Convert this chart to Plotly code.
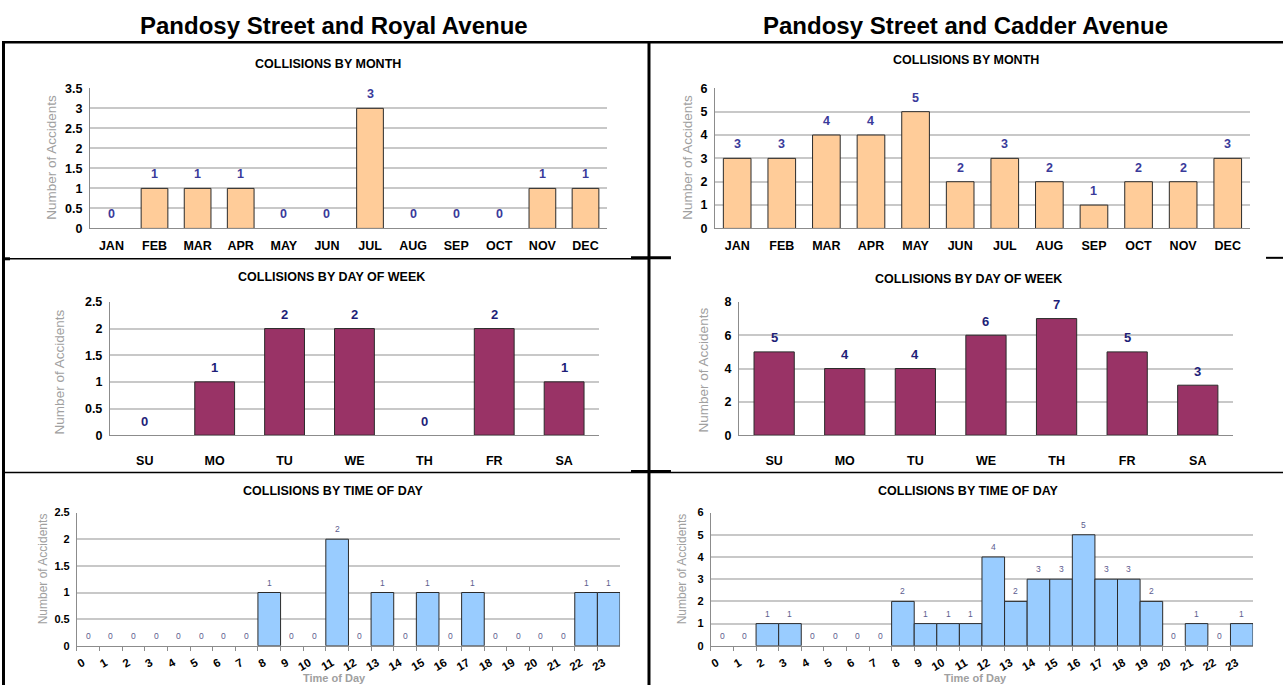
import plotly.graph_objects as go

W, H = 1283, 692

# ---------------- data ----------------
months = ["JAN", "FEB", "MAR", "APR", "MAY", "JUN", "JUL", "AUG", "SEP", "OCT", "NOV", "DEC"]
royal_month = [0, 1, 1, 1, 0, 0, 3, 0, 0, 0, 1, 1]
cadder_month = [3, 3, 4, 4, 5, 2, 3, 2, 1, 2, 2, 3]

days = ["SU", "MO", "TU", "WE", "TH", "FR", "SA"]
royal_day = [0, 1, 2, 2, 0, 2, 1]
cadder_day = [5, 4, 4, 6, 7, 5, 3]

hours = list(range(24))
royal_hour = [0, 0, 0, 0, 0, 0, 0, 0, 1, 0, 0, 2, 0, 1, 0, 1, 0, 1, 0, 0, 0, 0, 1, 1]
cadder_hour = [0, 0, 1, 1, 0, 0, 0, 0, 2, 1, 1, 1, 4, 2, 3, 3, 5, 3, 3, 2, 0, 1, 0, 1]

left_title = "Pandosy Street and Royal Avenue"
right_title = "Pandosy Street and Cadder Avenue"
y_title = "Number of Accidents"

FONT = "Liberation Sans, Arial, sans-serif"
PEACH = "#FFCC99"
PLUM = "#993366"
SKY = "#99CCFF"


def px(x):
    return x / W


def py(y):
    return 1 - y / H


fig = go.Figure()
annotations = []
shapes = []

# panel definitions: pixel boxes of plot areas
panels = [
    dict(ax="1", cats=months, vals=royal_month, color=PEACH, width=0.62, box=(88, 606, 83, 226),
         ymax=3.5, dtick=0.5, title="COLLISIONS BY MONTH", tx=327, ty=58, kind="month",
         ytx=50, yty=153),
    dict(ax="2", cats=months, vals=cadder_month, color=PEACH, width=0.62, box=(714, 1250, 83, 226),
         ymax=6, dtick=1, title="COLLISIONS BY MONTH", tx=966, ty=54, kind="month",
         ytx=687, yty=153),
    dict(ax="3", cats=days, vals=royal_day, color=PLUM, width=0.57, box=(108, 598, 301, 437),
         ymax=2.5, dtick=0.5, title="COLLISIONS BY DAY OF WEEK", tx=330, ty=276, kind="day",
         ytx=58, yty=372),
    dict(ax="4", cats=days, vals=cadder_day, color=PLUM, width=0.57, box=(738, 1233, 301, 437),
         ymax=8, dtick=2, title="COLLISIONS BY DAY OF WEEK", tx=968, ty=278, kind="day",
         ytx=703, yty=370),
    dict(ax="5", cats=hours, vals=royal_hour, color=SKY, width=1, box=(75, 619, 516, 652),
         ymax=2.5, dtick=0.5, title="COLLISIONS BY TIME OF DAY", tx=332, ty=494, kind="hour",
         ytx=41, yty=573, xt=333),
    dict(ax="6", cats=hours, vals=cadder_hour, color=SKY, width=1, box=(710, 1253, 516, 652),
         ymax=6, dtick=1, title="COLLISIONS BY TIME OF DAY", tx=968, ty=494, kind="hour",
         ytx=681, yty=573, xt=975),
]

layout_axes = {}
for p in panels:
    a = p["ax"]
    x0, x1, y0, y1 = p["box"]
    xname = "xaxis" if a == "1" else "xaxis" + a
    yname = "yaxis" if a == "1" else "yaxis" + a
    xref = "x" if a == "1" else "x" + a
    yref = "y" if a == "1" else "y" + a

    if p["kind"] == "hour":
        xs = [h + 0.5 for h in p["cats"]]
    else:
        xs = p["cats"]

    fig.add_trace(go.Bar(
        x=xs, y=p["vals"], width=p["width"], xaxis=xref, yaxis=yref,
        marker=dict(color=p["color"],
                    line=dict(color="#2b2b2b", width=[1 if v > 0 else 0 for v in p["vals"]])),
        showlegend=False, hoverinfo="skip",
    ))

    yax = dict(
        domain=[py(y1), py(y0)], anchor=xref, range=[0, p["ymax"]], dtick=p["dtick"],
        showgrid=True, gridcolor="#C8C8C8", gridwidth=1.5, zeroline=False,
        showline=True, linecolor="#8c8c8c", linewidth=1, ticks="",
        tickfont=dict(family=FONT, size=12.5 if p["kind"] != "hour" else 11, color="#000000",
                      weight="bold"),
        ticklabelstandoff=4, fixedrange=True,
    )
    if p["kind"] == "hour":
        xax = dict(
            domain=[px(x0), px(x1)], anchor=yref, range=[0, 24], tickmode="array",
            tickvals=p["cats"], ticktext=[str(h) for h in p["cats"]], tickangle=-30,
            ticks="outside", ticklen=4, tickcolor="#8c8c8c", showgrid=False,
            showline=True, linecolor="#8c8c8c", linewidth=1, zeroline=False,
            tickfont=dict(family=FONT, size=11.5, color="#000000", weight="bold"),
            ticklabelshift=6, ticklabelstandoff=1, fixedrange=True,
        )
    else:
        xax = dict(
            domain=[px(x0), px(x1)], anchor=yref, type="category",
            categoryorder="array", categoryarray=p["cats"],
            ticks="", showgrid=False, showline=True, linecolor="#8c8c8c", linewidth=1,
            tickfont=dict(family=FONT, size=12.5, color="#000000", weight="bold"),
            ticklabelstandoff=6 if p["kind"] == "month" else 14, fixedrange=True,
        )
    layout_axes[xname] = xax
    layout_axes[yname] = yax

    # value labels
    for xv, v in zip(xs, p["vals"]):
        if p["kind"] == "month":
            f = dict(family=FONT, size=12.5, color="#3A3A9A", weight="bold")
            sh = 14
        elif p["kind"] == "day":
            f = dict(family=FONT, size=13, color="#1E1E78", weight="bold")
            sh = 14
        else:
            f = dict(family=FONT, size=8.5, color="#5C5C8E")
            sh = 10
        annotations.append(dict(x=xv, y=v, xref=xref, yref=yref, text=str(v), showarrow=False,
                                yanchor="middle", yshift=sh, font=f))

    # panel title
    annotations.append(dict(x=px(p["tx"]), y=py(p["ty"]), xref="paper", yref="paper",
                            text=p["title"], showarrow=False, xanchor="center", yanchor="middle",
                            font=dict(family=FONT, size=12.5, color="#000000", weight="bold")))
    # y axis title
    annotations.append(dict(x=px(p["ytx"]), y=py(p["yty"]), xref="paper", yref="paper",
                            text=y_title, showarrow=False, textangle=-90,
                            xanchor="center", yanchor="middle",
                            font=dict(family=FONT, size=13.5 if p["kind"] != "hour" else 12,
                                      color="#A0A0A0")))
    if p["kind"] == "hour":
        annotations.append(dict(x=px(p["xt"]), y=py(685), xref="paper", yref="paper",
                                text="Time of Day", showarrow=False, xanchor="center",
                                yanchor="middle",
                                font=dict(family=FONT, size=11, color="#A0A0A0",
                                          weight="bold")))

# main titles
annotations.append(dict(x=px(333), y=py(19), xref="paper", yref="paper", text=left_title,
                        showarrow=False, xanchor="center", yanchor="middle",
                        font=dict(family=FONT, size=24, color="#000000", weight="bold")))
annotations.append(dict(x=px(965), y=py(19), xref="paper", yref="paper", text=right_title,
                        showarrow=False, xanchor="center", yanchor="middle",
                        font=dict(family=FONT, size=24, color="#000000", weight="bold")))


# frame lines (table borders)
def hline(x0, x1, y, w=2):
    shapes.append(dict(type="line", xref="paper", yref="paper", x0=px(x0), x1=px(x1),
                       y0=py(y), y1=py(y), line=dict(color="#000000", width=w)))


def vline(x, y0, y1, w=2):
    shapes.append(dict(type="line", xref="paper", yref="paper", x0=px(x), x1=px(x),
                       y0=py(y0), y1=py(y1), line=dict(color="#000000", width=w)))


hline(0, W, 36, 2.5)
vline(1.5, 36, H, 3)
vline(648, 36, H, 3)
hline(0, 648, 257, 1.5)
hline(0, 8, 257, 3)
hline(630, 670, 256, 3)
hline(1266, W, 256, 2)
hline(0, W, 475, 1.5)
hline(630, 670, 474, 3)

fig.update_layout(
    width=W, height=H, autosize=False, margin=dict(l=0, r=0, t=0, b=0, pad=0),
    paper_bgcolor="#FFFFFF", plot_bgcolor="#FFFFFF",
    annotations=annotations, shapes=shapes, showlegend=False,
    font=dict(family=FONT),
    **layout_axes,
)

fig.write_html("out.html", config=dict(displayModeBar=False))
